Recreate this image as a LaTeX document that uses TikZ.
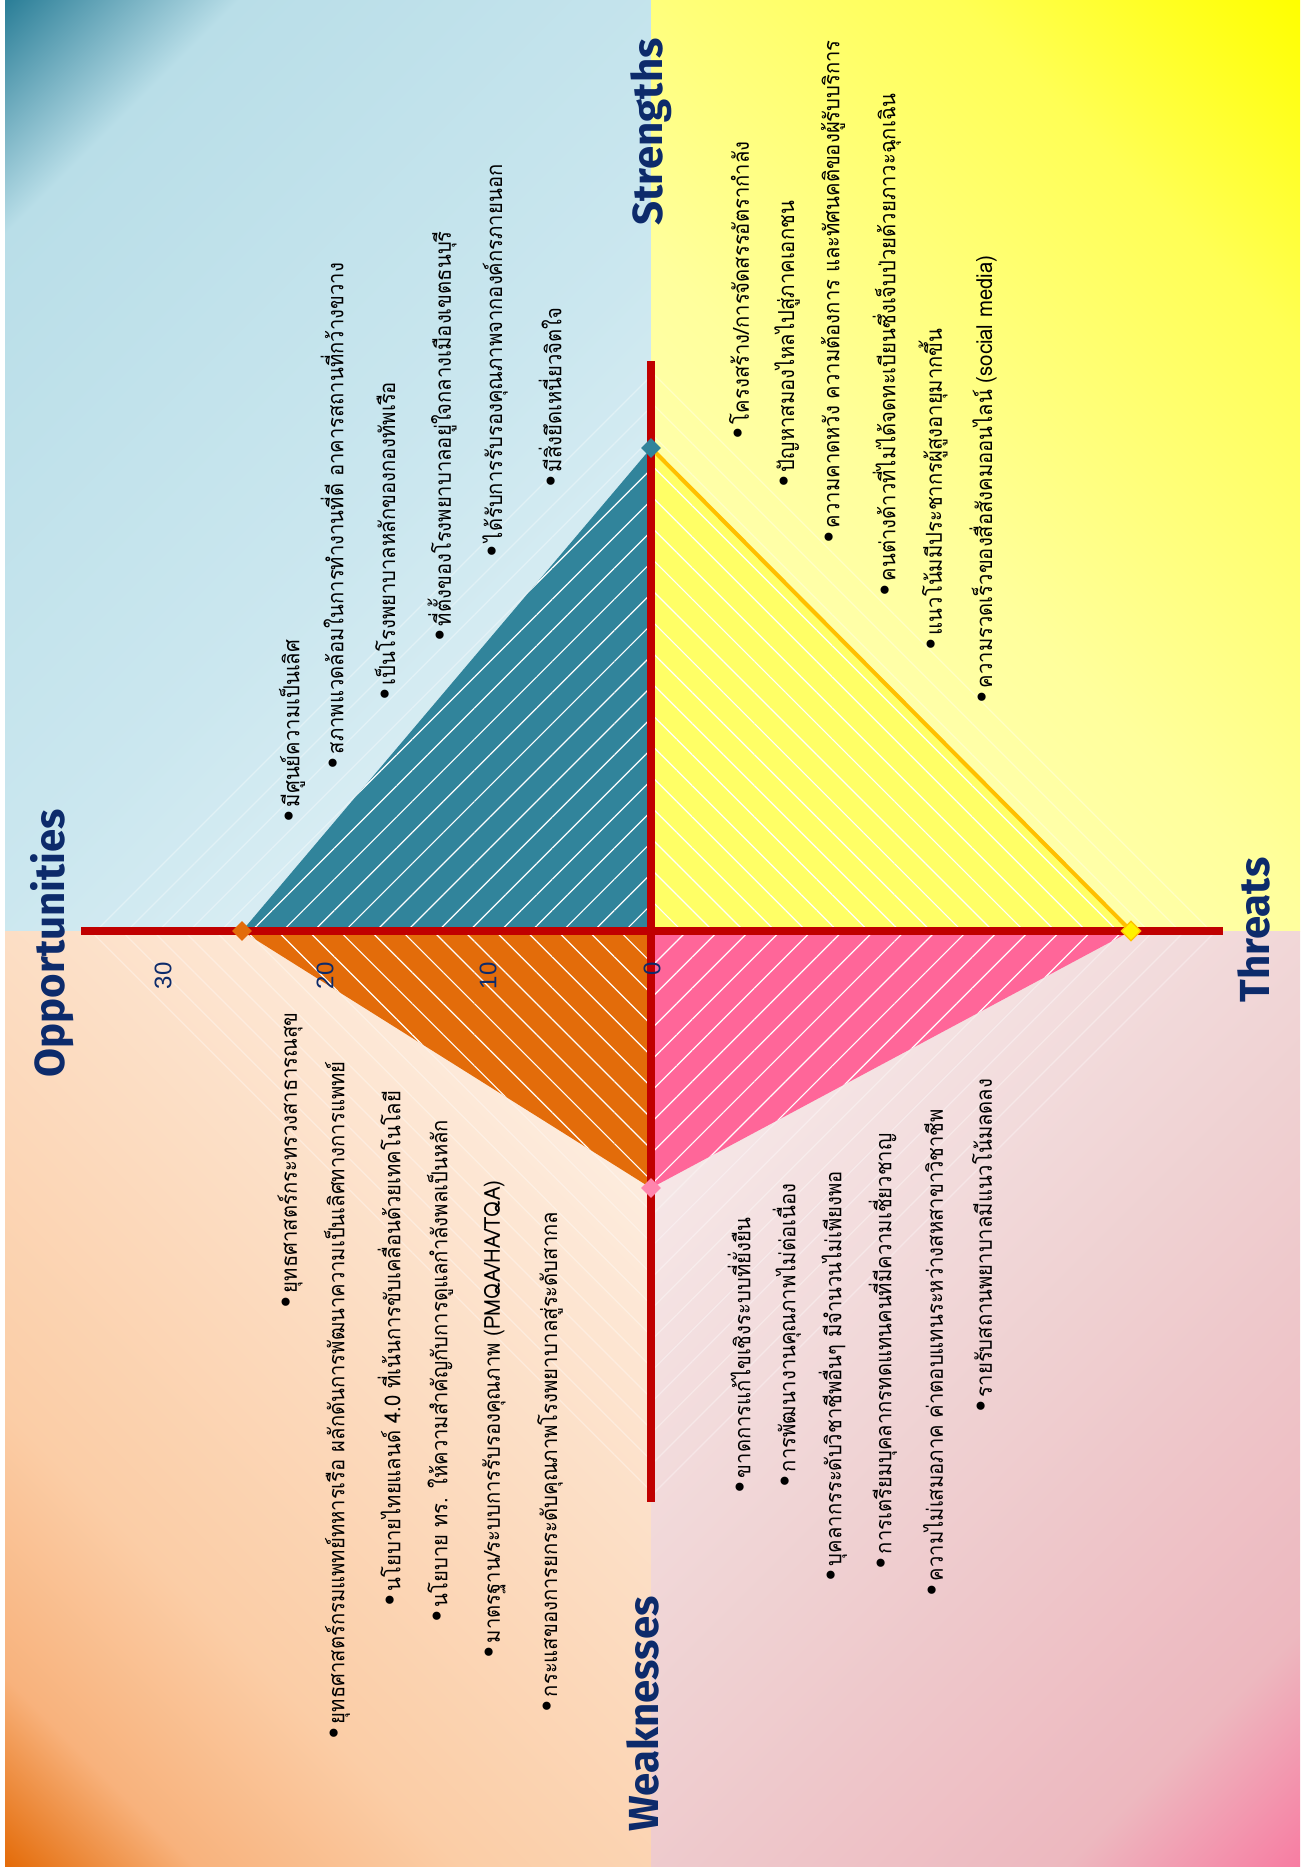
\documentclass[tikz,border=0pt]{standalone}
\usepackage{fontspec}
\usepackage{tikz}
\usetikzlibrary{patterns.meta, shapes.geometric}

\newfontfamily\thaifont[Script=Thai, FakeStretch=0.92]{Loma}
\newfontfamily\headfont{Fira Sans}
\newfontfamily\numfont{Liberation Sans}
\newfontfamily\bulletfont{DejaVu Sans}

\definecolor{axisred}{HTML}{C00000}
\definecolor{teal}{HTML}{31849B}
\definecolor{lemon}{HTML}{FFFF66}
\definecolor{amber}{HTML}{FFC000}
\definecolor{rose}{HTML}{FF6699}
\definecolor{pumpkin}{HTML}{E36C0A}
\definecolor{navy}{HTML}{0D2B6B}

% background colours, corner to centre
\definecolor{tlA}{HTML}{2C7F98}
\definecolor{tlB}{HTML}{B9DEE8}
\definecolor{tlC}{HTML}{CBE7EF}
\definecolor{tlD}{HTML}{EAF5F9}
\definecolor{trA}{HTML}{FFFF00}
\definecolor{trB}{HTML}{FFFF55}
\definecolor{trC}{HTML}{FFFF9C}
\definecolor{trD}{HTML}{FFFFC8}
\definecolor{blA}{HTML}{E46C0A}
\definecolor{blB}{HTML}{F8B27C}
\definecolor{blC}{HTML}{FBCDA6}
\definecolor{blD}{HTML}{FEF5EE}
\definecolor{brA}{HTML}{F77DA2}
\definecolor{brB}{HTML}{EDB8BF}
\definecolor{brC}{HTML}{EFD1D2}
\definecolor{brD}{HTML}{F9F1F1}

\pgfdeclarehorizontalshading{tlfade}{100bp}{color(0bp)=(tlA); color(14.6bp)=(tlA); color(25bp)=(tlB); color(55bp)=(tlC); color(85.4bp)=(tlD); color(100bp)=(tlD)}
\pgfdeclarehorizontalshading{trfade}{100bp}{color(0bp)=(trA); color(14.6bp)=(trA); color(30bp)=(trB); color(55bp)=(trC); color(85.4bp)=(trD); color(100bp)=(trD)}
\pgfdeclarehorizontalshading{blfade}{100bp}{color(0bp)=(blA); color(14.6bp)=(blA); color(23bp)=(blB); color(35bp)=(blC); color(85.4bp)=(blD); color(100bp)=(blD)}
\pgfdeclarehorizontalshading{brfade}{100bp}{color(0bp)=(brA); color(14.6bp)=(brA); color(25bp)=(brB); color(50bp)=(brC); color(85.4bp)=(brD); color(100bp)=(brD)}

\newcommand\itemdot{{\bulletfont\fontsize{14}{14}\selectfont •}\hspace{0.5pt}}

\tikzset{
    bullet/.style={rotate=90, anchor=west, inner sep=0pt, font=\thaifont\fontsize{11}{13}\selectfont},
    heading/.style={rotate=90, inner sep=0pt, text=navy, font=\headfont\bfseries\fontsize{21}{24}\selectfont},
    tick/.style={rotate=90, anchor=east, inner sep=0pt, text=navy, font=\numfont\fontsize{12}{14}\selectfont},
    marker/.style={diamond, inner sep=0pt, minimum size=10pt},
    hatch/.style={pattern={Lines[angle=#1, distance=11pt, line width=0.6pt]}, pattern color=white},
}

\begin{document}
\begin{tikzpicture}[x=0.5pt, y=-0.5pt]
    \useasboundingbox (0,0) rectangle (1300,1867);
    \fill[white] (0,0) rectangle (1300,1867);

    % Backgrounds
    \shade[shading=tlfade, shading angle=-45] (5,0) rectangle (651,931);
    \shade[shading=trfade, shading angle=-135] (651,0) rectangle (1300,931);
    \shade[shading=blfade, shading angle=45] (5,931) rectangle (651,1867);
    \shade[shading=brfade, shading angle=135] (651,931) rectangle (1300,1867);

    % Chart points
    \coordinate (c) at (651,931);
    \coordinate (top) at (651,448);
    \coordinate (left) at (242,931);
    \coordinate (right) at (1131,931);
    \coordinate (bottom) at (651,1188);
    \coordinate (axl) at (81,931);
    \coordinate (axr) at (1223,931);
    \coordinate (axt) at (651,361);
    \coordinate (axb) at (651,1502);

    % Faint grid hatching
    \fill[hatch=45, opacity=0.35] (c) -- (axt) -- (axl) -- cycle;
    \fill[hatch=-45, opacity=0.35] (c) -- (axt) -- (axr) -- cycle;
    \fill[hatch=45, opacity=0.35] (c) -- (axr) -- (axb) -- cycle;
    \fill[hatch=-45, opacity=0.35] (c) -- (axb) -- (axl) -- cycle;

    % Areas
    \fill[teal] (c) -- (top) -- (left) -- cycle;
    \fill[hatch=45] (c) -- (top) -- (left) -- cycle;
    \fill[lemon] (c) -- (top) -- (right) -- cycle;
    \fill[hatch=-45] (c) -- (top) -- (right) -- cycle;
    \draw[amber, line width=2pt] (right) -- (top);
    \fill[rose] (c) -- (right) -- (bottom) -- cycle;
    \fill[hatch=45] (c) -- (right) -- (bottom) -- cycle;
    \fill[pumpkin] (c) -- (bottom) -- (left) -- cycle;
    \fill[hatch=-45] (c) -- (bottom) -- (left) -- cycle;

    % Axes
    \draw[axisred, line width=4.2pt] (axl) -- (axr);
    \draw[axisred, line width=4.2pt] (axt) -- (axb);

    % Markers
    \node[marker, fill=teal] (mtop) at (top) {};
    \node[marker, fill=pumpkin] (mleft) at (left) {};
    \node[marker, fill=yellow, draw=amber, line width=0.6pt] (mright) at (right) {};
    \node[marker, fill=rose!80!white] (mbottom) at (bottom) {};

    % Scale
    \node[tick] (n0) at (652,962) {0};
    \node[tick] (n10) at (488,962) {10};
    \node[tick] (n20) at (325,962) {20};
    \node[tick] (n30) at (163,962) {30};

    % Headings
    \node[heading] (hopp) at (52,943) {Opportunities};
    \node[heading] (hstr) at (651,132) {Strengths};
    \node[heading] (hthr) at (1254,930) {Threats};
    \node[heading] (hweak) at (643,1714) {Weaknesses};

    % Upper left list
    \node[bullet] (tl1) at (292,825) {\itemdot มีศูนย์ความเป็นเลิศ};
    \node[bullet] (tl2) at (332,772) {\itemdot สภาพแวดล้อมในการทำงานที่ดี อาคารสถานที่กว้างขวาง};
    \node[bullet] (tl3) at (385,703) {\itemdot เป็นโรงพยาบาลหลักของกองทัพเรือ};
    \node[bullet] (tl4) at (442,644) {\itemdot ที่ตั้งของโรงพยาบาลอยู่ใจกลางเมืองเขตธนบุรี};
    \node[bullet] (tl5) at (495,560) {\itemdot ได้รับการรับรองคุณภาพจากองค์กรภายนอก};
    \node[bullet] (tl6) at (550,490) {\itemdot มีสิ่งยึดเหนี่ยวจิตใจ};

    % Upper right list
    \node[bullet] (tr1) at (739,442) {\itemdot โครงสร้าง/การจัดสรรอัตรากำลัง};
    \node[bullet] (tr2) at (787,490) {\itemdot ปัญหาสมองไหลไปสู่ภาคเอกชน};
    \node[bullet] (tr3) at (833,546) {\itemdot ความคาดหวัง ความต้องการ และทัศนคติของผู้รับบริการ};
    \node[bullet] (tr4) at (887,599) {\itemdot คนต่างด้าวที่ไม่ได้จดทะเบียนซึ่งเจ็บป่วยด้วยภาวะฉุกเฉิน};
    \node[bullet] (tr5) at (933,653) {\itemdot แนวโน้มมีประชากรผู้สูงอายุมากขึ้น};
    \node[bullet] (tr6) at (983,706) {\itemdot ความรวดเร็วของสื่อสังคมออนไลน์ (social media)};

    % Lower left list
    \node[bullet] (bl1) at (290,1311) {\itemdot ยุทธศาสตร์กระทรวงสาธารณสุข};
    \node[bullet] (bl2) at (337,1742) {\itemdot ยุทธศาสตร์กรมแพทย์ทหารเรือ ผลักดันการพัฒนาความเป็นเลิศทางการแพทย์};
    \node[bullet] (bl3) at (389,1609) {\itemdot นโยบายไทยแลนด์ 4.0 ที่เน้นการขับเคลื่อนด้วยเทคโนโลยี};
    \node[bullet] (bl4) at (440,1625) {\itemdot นโยบาย ทร. ให้ความสำคัญกับการดูแลกำลังพลเป็นหลัก};
    \node[bullet] (bl5) at (494,1661) {\itemdot มาตรฐาน/ระบบการรับรองคุณภาพ (PMQA/HA/TQA)};
    \node[bullet] (bl6) at (550,1715) {\itemdot กระแสของการยกระดับคุณภาพโรงพยาบาลสู่ระดับสากล};

    % Lower right list
    \node[bullet] (br1) at (739,1496) {\itemdot ขาดการแก้ไขเชิงระบบที่ยั่งยืน};
    \node[bullet] (br2) at (787,1490) {\itemdot การพัฒนางานคุณภาพไม่ต่อเนื่อง};
    \node[bullet] (br3) at (833,1584) {\itemdot บุคลากรระดับวิชาชีพอื่นๆ มีจำนวนไม่เพียงพอ};
    \node[bullet] (br4) at (883,1572) {\itemdot การเตรียมบุคลากรทดแทนคนที่มีความเชี่ยวชาญ};
    \node[bullet] (br5) at (933,1599) {\itemdot ความไม่เสมอภาค ค่าตอบแทนระหว่างสหสาขาวิชาชีพ};
    \node[bullet] (br6) at (982,1415) {\itemdot รายรับสถานพยาบาลมีแนวโน้มลดลง};
\end{tikzpicture}
\end{document}
